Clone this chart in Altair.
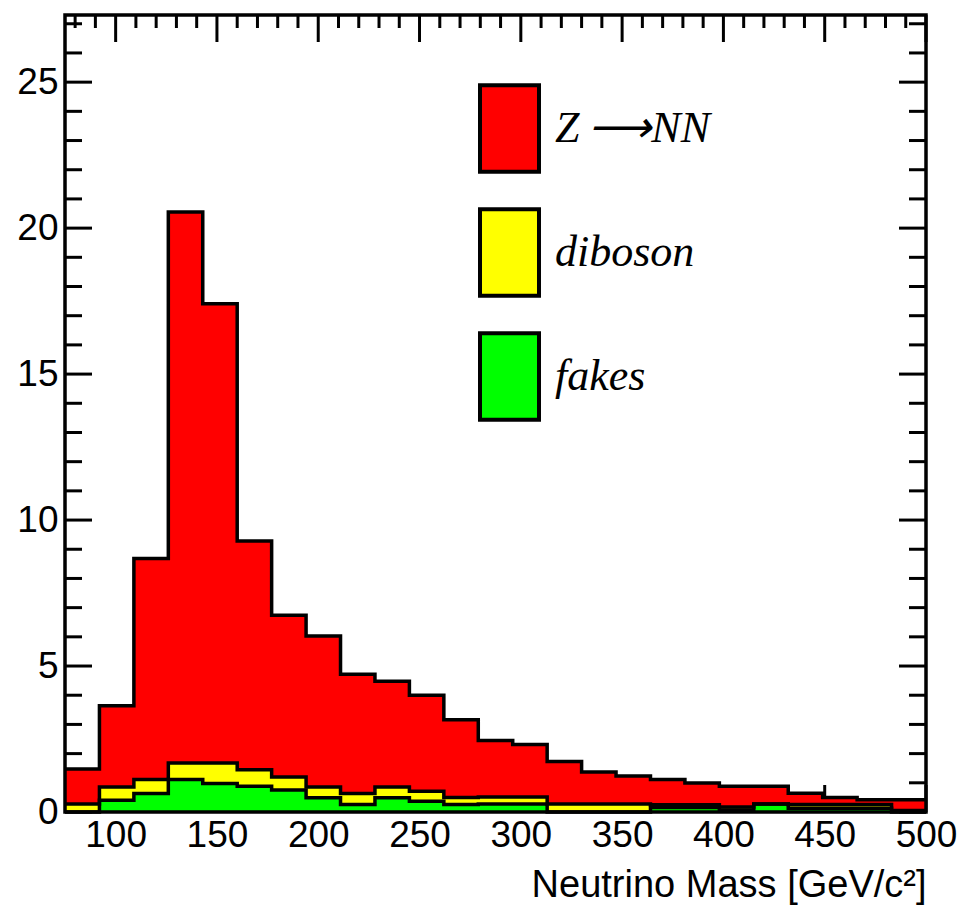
import altair as alt
import numpy as np
import pandas as pd

# ---- data ----
edges = [75, 92, 109, 126, 143, 160, 177, 194, 211, 228, 245, 262, 279,
         296, 313, 330, 347, 364, 381, 398, 415, 432, 449, 466, 483, 500]
fakes = [0.00, 0.40, 0.63, 1.11, 0.98, 0.88, 0.75, 0.49, 0.26, 0.49, 0.37, 0.26, 0.27,
         0.27, 0.00, 0.00, 0.00, 0.15, 0.15, 0.07, 0.27, 0.13, 0.13, 0.13, 0.00]
diboson = [0.27, 0.46, 0.48, 0.57, 0.70, 0.57, 0.45, 0.37, 0.37, 0.37, 0.34, 0.24, 0.24,
           0.24, 0.27, 0.27, 0.27, 0.10, 0.10, 0.10, 0.00, 0.13, 0.13, 0.13, 0.05]
znn = [1.20, 2.78, 7.57, 18.87, 15.73, 7.83, 5.54, 5.17, 4.09, 3.62, 3.29, 2.66, 1.94,
       1.80, 1.46, 1.10, 0.96, 0.86, 0.74, 0.71, 0.61, 0.38, 0.24, 0.16, 0.37]
series_names = ["Z\u2009\u27f6NN", "diboson", "fakes"]
series_colors = ["#ff0000", "#ffff00", "#00ff00"]
x_major = [100, 150, 200, 250, 300, 350, 400, 450, 500]
x_minor = [80, 90, 110, 120, 130, 140, 160, 170, 180, 190, 210, 220, 230, 240,
           260, 270, 280, 290, 310, 320, 330, 340, 360, 370, 380, 390, 410, 420,
           430, 440, 460, 470, 480, 490]
y_major = [0, 5, 10, 15, 20, 25]
y_minor = [1, 2, 3, 4, 6, 7, 8, 9, 11, 12, 13, 14, 16, 17, 18, 19, 21, 22, 23, 24, 26, 27]
x_title = "Neutrino Mass [GeV/c\u00b2]"

# ---- layout ----
W, H = 861, 797
XDOM = [75, 500]
YDOM = [0, 27.3]

g = np.array(fakes)
yv = g + np.array(diboson)
t = yv + np.array(znn)
bounds = {series_names[0]: (yv, t), series_names[1]: (g, yv), series_names[2]: (np.zeros_like(g), g)}

rows = []
for name in series_names:
    lo, hi = bounds[name]
    for i in range(len(edges)):
        j = min(i, len(lo) - 1)
        rows.append({"series": name, "x": edges[i], "bot": float(lo[j]), "top": float(hi[j])})
df = pd.DataFrame(rows)

xs = alt.Scale(domain=XDOM, nice=False, zero=False)
ys = alt.Scale(domain=YDOM, nice=False, zero=False)

FONT = "Liberation Sans"

x_axis = alt.Axis(
    values=x_major, ticks=False, domain=False, grid=False, format="d",
    labelFont=FONT, labelFontSize=37, labelColor="black", labelBaseline="alphabetic",
    labelPadding=34.5, labelFlush=False, labelOverlap=False,
    title=x_title, titleFont=FONT, titleFontSize=38, titleFontWeight="normal",
    titleColor="black", titleAnchor="end", titleAlign="right", titleBaseline="alphabetic",
    titleX=W, titleY=84.5)
y_axis = alt.Axis(
    values=y_major, ticks=False, domain=False, grid=False, format="d",
    labelFont=FONT, labelFontSize=37, labelColor="black", labelBaseline="middle",
    labelPadding=7, labelFlush=False, labelOverlap=False, title=None)

legend = alt.Legend(
    title=None, orient="none", legendX=399, legendY=68, padding=0,
    symbolType="M-0.682,-1H0.682V1H-0.682Z", symbolSize=7482,
    symbolStrokeColor="black", symbolStrokeWidth=4, symbolOpacity=1,
    labelFont="Liberation Serif", labelFontStyle="italic", labelFontSize=44,
    labelColor="black", labelOffset=0, rowPadding=21, labelLimit=400,
)

areas = alt.Chart(df).mark_area(interpolate="step-after", opacity=1).encode(
    x=alt.X("x:Q", scale=xs, axis=x_axis),
    y=alt.Y("top:Q", scale=ys, axis=y_axis),
    y2="bot:Q",
    color=alt.Color("series:N", scale=alt.Scale(domain=series_names, range=series_colors),
                    sort=series_names, legend=legend),
)

outlines = alt.Chart(df).mark_line(interpolate="step-after", color="black", strokeWidth=3.5).encode(
    x=alt.X("x:Q", scale=xs, axis=x_axis),
    y=alt.Y("top:Q", scale=ys, axis=y_axis),
    detail="series:N",
)


def yticks(vals, x0, x1):
    return alt.Chart(pd.DataFrame({"top": vals})).mark_rule(color="black", strokeWidth=3).encode(
        y=alt.Y("top:Q", scale=ys, axis=y_axis), x=alt.value(x0), x2=alt.value(x1))


def xticks(vals, y0, y1):
    return alt.Chart(pd.DataFrame({"x": vals})).mark_rule(color="black", strokeWidth=3).encode(
        x=alt.X("x:Q", scale=xs, axis=x_axis), y=alt.value(y0), y2=alt.value(y1))


ticks = [
    yticks(y_major, 0, 27), yticks(y_minor, 0, 17),
    yticks(y_major, W, W - 27), yticks(y_minor, W, W - 17),
    xticks(x_major, H, H - 27), xticks(x_minor, H, H - 13),
    xticks(x_major, 0, 27), xticks(x_minor, 0, 13),
]

frame = alt.Chart(pd.DataFrame({"a": [0]})).mark_rect(
    filled=False, stroke="black", strokeWidth=3.5).encode(
    x=alt.value(0), x2=alt.value(W), y=alt.value(0), y2=alt.value(H))

chart = alt.layer(*ticks, areas, outlines, frame).properties(
    width=W, height=H,
    autosize=alt.AutoSizeParams(type="none"),
    padding={"left": 65, "top": 15, "right": 35, "bottom": 94},
    background="white",
).configure_view(stroke=None)

chart.save("out.html", embed_options={"renderer": "svg", "actions": False})
